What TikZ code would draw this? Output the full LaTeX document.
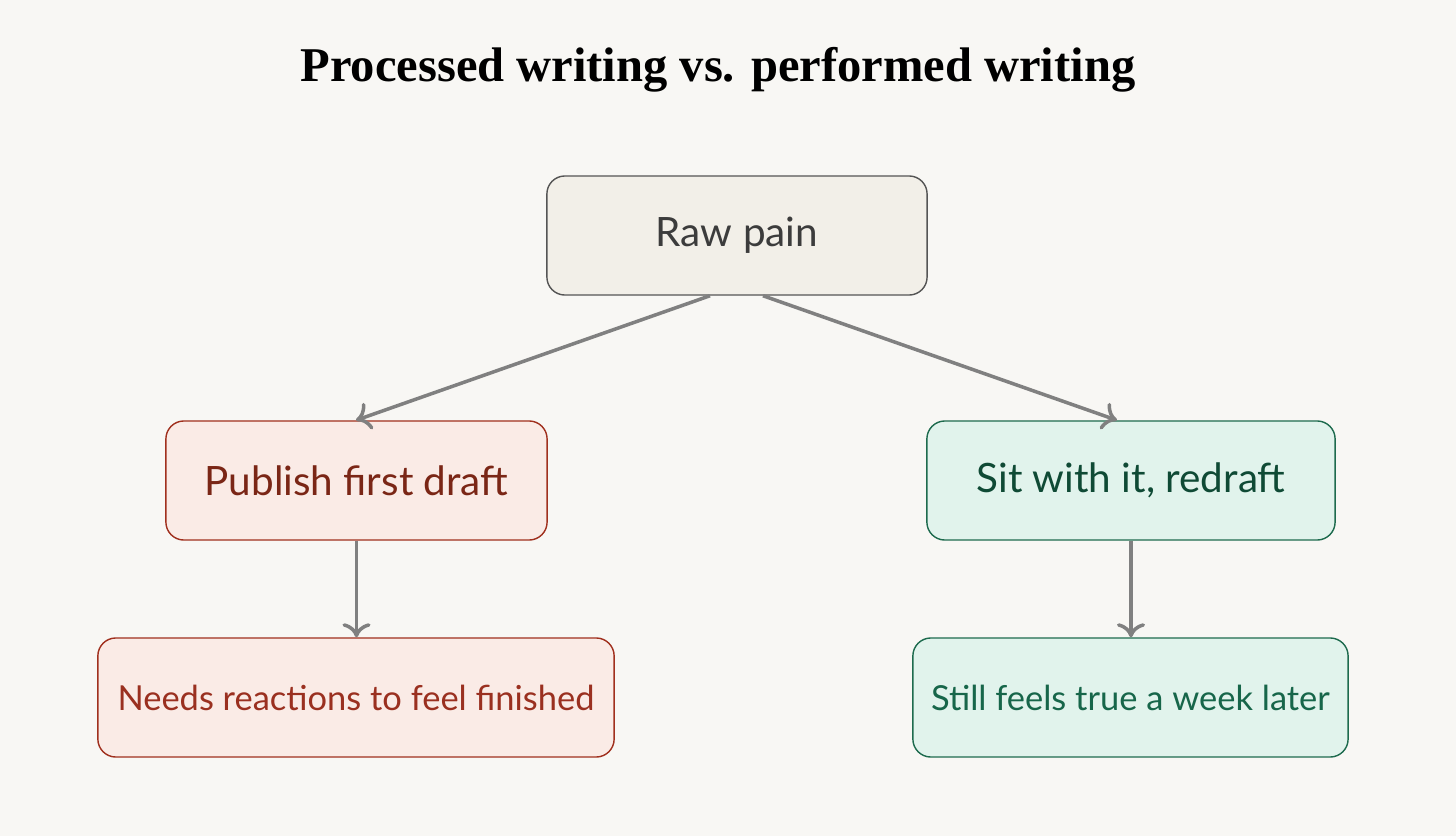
\documentclass[tikz,border=0pt]{standalone}
\usepackage{fontspec}
\setmainfont{Liberation Serif}
\newfontfamily\boxfont{Lato}
\usetikzlibrary{arrows.meta}
\definecolor{bg}{HTML}{F8F7F4}
\definecolor{rawfill}{HTML}{F2EFE8}
\definecolor{rawline}{HTML}{555555}
\definecolor{rawtext}{HTML}{3C3C3C}
\definecolor{redfill}{HTML}{FAEBE6}
\definecolor{redline}{HTML}{A0301E}
\definecolor{redtextA}{HTML}{7A2616}
\definecolor{redtextB}{HTML}{9A3020}
\definecolor{grnfill}{HTML}{E1F3EC}
\definecolor{grnline}{HTML}{1E6B4E}
\definecolor{grntextA}{HTML}{0F4A35}
\definecolor{grntextB}{HTML}{17664A}
\definecolor{arr}{HTML}{808080}
\tikzset{
 box/.style={rounded corners=0.18cm, line width=0.4pt, minimum height=1.19cm, inner sep=0pt, font=\boxfont\fontsize{11.5pt}{13pt}\selectfont},
 raw/.style={box, fill=rawfill, draw=rawline, text=rawtext},
 red/.style={box, fill=redfill, draw=redline},
 grn/.style={box, fill=grnfill, draw=grnline},
 conn/.style={draw=arr, line width=1pt, -{To[length=4pt,width=8pt]}}
}
\begin{document}
\begin{tikzpicture}[x=0.01cm,y=-0.01cm]
\fill[bg] (0,0) rectangle (1456,836);
\useasboundingbox (0,0) rectangle (1456,836);
\node[font=\bfseries\fontsize{13.8pt}{15pt}\selectfont] (title) at (718,70) {Processed writing vs. performed writing};
\node[raw, minimum width=3.80cm] (rawn) at (737,235.5) {Raw pain};
\node[red, minimum width=3.81cm, text=redtextA] (pub) at (356.5,480.5) {Publish first draft};
\node[grn, minimum width=4.08cm, text=grntextA] (sit) at (1131,480.5) {Sit with it, redraft};
\node[red, minimum width=5.16cm, text=redtextB, font=\boxfont\fontsize{9.8pt}{12pt}\selectfont] (needs) at (356,697.5) {Needs reactions to feel finished};
\node[grn, minimum width=4.35cm, text=grntextB, font=\boxfont\fontsize{9.8pt}{12pt}\selectfont] (still) at (1130.5,697.5) {Still feels true a week later};
\draw[conn] ([xshift=-0.27cm]rawn.south) -- ([xshift=-0.005cm]pub.north);
\draw[conn] ([xshift=0.26cm]rawn.south) -- ([xshift=-0.14cm]sit.north);
\draw[conn] (pub.south) -- (pub.south |- needs.north);
\draw[conn] (sit.south) -- (sit.south |- still.north);
\end{tikzpicture}
\end{document}
